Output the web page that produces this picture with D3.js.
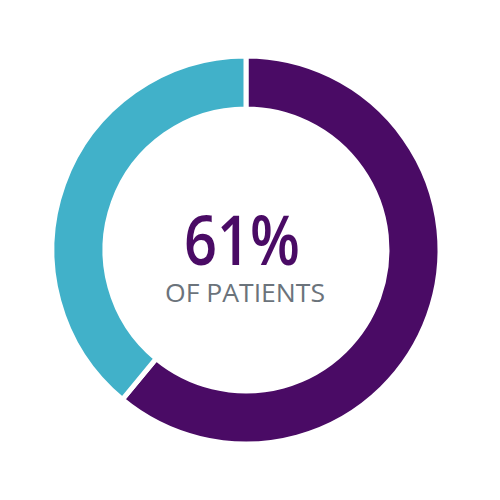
<!DOCTYPE html>
<html>
<head>
<meta charset="utf-8">
<script src="https://cdn.jsdelivr.net/npm/d3@7"></script>
<style>
  html, body { margin: 0; padding: 0; background: #fff; }
</style>
</head>
<body>
<div id="chart"></div>
<script>
// Données du graphique
const categories = ["Patients", "Autres"];
const values = [61, 39];
const colours = ["#4a0b65", "#41b1c9"];
const bigLabel = "61%";
const smallLabel = "OF PATIENTS";

const svgWidth = 500;
const svgHeight = 500;
const cx = 246;
const cy = 250;
const outerRadius = 194;
const innerRadius = 141;

const svg = d3.select("#chart")
    .append("svg")
    .attr("width", svgWidth)
    .attr("height", svgHeight);

const g = svg.append("g")
    .attr("transform", `translate(${cx}, ${cy})`);

// Disposition des secteurs (sens horaire depuis midi)
const pie = d3.pie()
    .sort(null)
    .value(d => d.value);

const arc = d3.arc()
    .innerRadius(innerRadius)
    .outerRadius(outerRadius);

const data = categories.map((c, i) => ({ name: c, value: values[i] }));

g.selectAll("path")
    .data(pie(data))
    .enter()
    .append("path")
    .attr("d", arc)
    .attr("fill", (d, i) => colours[i])
    .attr("stroke", "#fff")
    .attr("stroke-width", 5);

// Texte central (un seul bloc, deux lignes)
const label = g.append("text")
    .attr("text-anchor", "middle");

label.append("tspan")
    .attr("x", -4)
    .attr("y", 15)
    .attr("font-family", "'Open Sans', sans-serif")
    .attr("font-weight", 600)
    .attr("font-size", 68)
    .attr("fill", "#4a0b65")
    .attr("textLength", 116)
    .attr("lengthAdjust", "spacingAndGlyphs")
    .text(bigLabel);

label.append("tspan")
    .attr("x", -1)
    .attr("y", 52)
    .attr("font-family", "'Open Sans', sans-serif")
    .attr("font-size", 26)
    .attr("fill", "#6b737b")
    .attr("textLength", 160)
    .attr("lengthAdjust", "spacingAndGlyphs")
    .text(smallLabel);
</script>
</body>
</html>
